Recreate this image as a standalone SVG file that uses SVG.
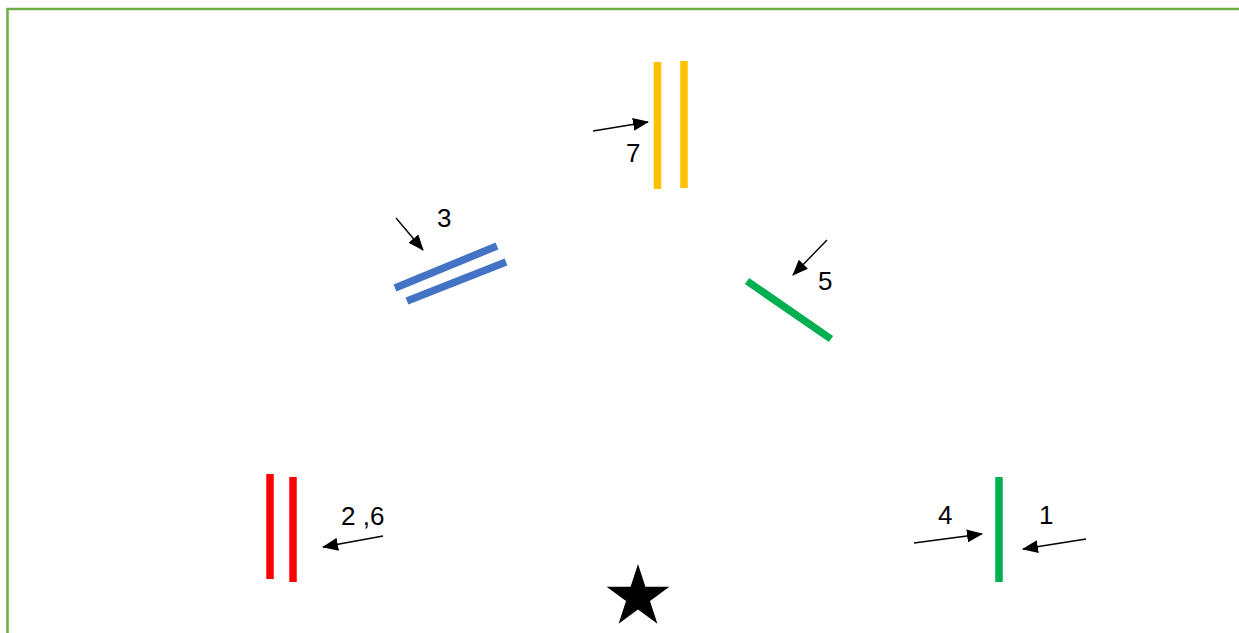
<svg xmlns="http://www.w3.org/2000/svg" width="1239" height="633" viewBox="0 0 1239 633">
<style>
.lbl{font-family:"Liberation Sans","DejaVu Sans",sans-serif;font-size:26px;fill:#000}
.bar{stroke-width:7.5;fill:none}
.arr{stroke:#000;stroke-width:1.4;fill:none;marker-end:url(#ah)}
</style>
<defs>
<marker id="ah" markerUnits="userSpaceOnUse" markerWidth="16" markerHeight="13" refX="15" refY="6.5" orient="auto" viewBox="0 0 16 13">
<path d="M0,0 L16,6.5 L0,13 z" fill="#000"/>
</marker>
</defs>
<rect x="0" y="0" width="1239" height="633" fill="#fff"/>
<rect id="frame" x="7.5" y="9" width="1260" height="660" fill="none" stroke="#70AD47" stroke-width="2.5"/>
<g id="node-7">
<line class="bar" x1="657.5" y1="62" x2="657.5" y2="189" stroke="#FFC000"/>
<line class="bar" x1="684" y1="61" x2="684" y2="188" stroke="#FFC000"/>
<text class="lbl" x="626" y="162">7</text>
</g>
<g id="node-3">
<line class="bar" x1="395" y1="288" x2="497" y2="246" stroke="#4472C4"/>
<line class="bar" x1="407" y1="301" x2="506" y2="262" stroke="#4472C4"/>
<text class="lbl" x="437" y="227">3</text>
</g>
<g id="node-5">
<line class="bar" x1="747" y1="281" x2="831" y2="339" stroke="#00B050"/>
<text class="lbl" x="818" y="290">5</text>
</g>
<g id="node-26">
<line class="bar" x1="270" y1="474" x2="270" y2="579" stroke="#FF0000"/>
<line class="bar" x1="293" y1="477" x2="293" y2="582" stroke="#FF0000"/>
<text class="lbl" x="341" y="525">2 ,6</text>
</g>
<g id="node-14">
<line class="bar" x1="999" y1="477" x2="999" y2="582" stroke="#00B050"/>
<text class="lbl" x="938" y="524">4</text>
<text class="lbl" x="1039" y="524">1</text>
</g>
<g id="star">
<polygon points="638,564 645.4,586.8 669.4,586.8 650,600.9 657.4,623.7 638,609.6 618.6,623.7 626,600.9 606.6,586.8 630.6,586.8" fill="#000"/>
</g>
<g id="connectors">
<line class="arr" x1="593" y1="131" x2="648" y2="122"/>
<line class="arr" x1="396" y1="218" x2="423" y2="250"/>
<line class="arr" x1="827" y1="240" x2="793" y2="275"/>
<line class="arr" x1="383" y1="536" x2="323" y2="547"/>
<line class="arr" x1="914" y1="543" x2="982" y2="534"/>
<line class="arr" x1="1086" y1="539" x2="1023" y2="549"/>
</g>
</svg>
